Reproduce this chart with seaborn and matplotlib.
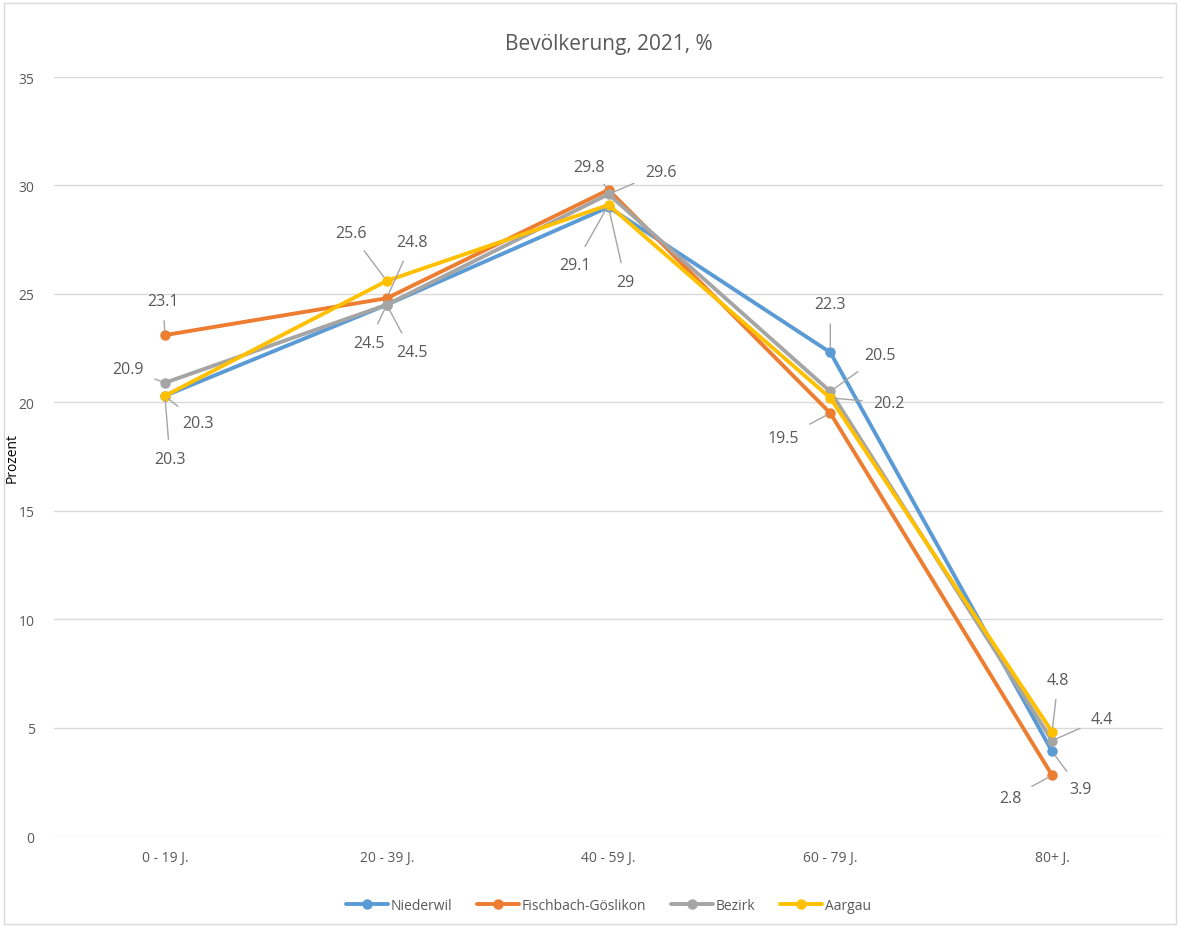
import pandas as pd
import matplotlib.pyplot as plt
import seaborn as sns

# Daten
kategorien = ['0 - 19 J.', '20 - 39 J.', '40 - 59 J.', '60 - 79 J.', '80+ J.']
niederwil = [20.3, 24.5, 29.0, 22.3, 3.9]
fischbach = [23.1, 24.8, 29.8, 19.5, 2.8]
bezirk = [20.9, 24.5, 29.6, 20.5, 4.4]
aargau = [20.3, 25.6, 29.1, 20.2, 4.8]

serien = {'Niederwil': niederwil, 'Fischbach-Göslikon': fischbach,
          'Bezirk': bezirk, 'Aargau': aargau}
farben = ['#5B9BD5', '#ED7D31', '#A5A5A5', '#FFC000']

rows = []
for name, werte in serien.items():
    for i, v in enumerate(werte):
        rows.append({'pos': i, 'wert': v, 'serie': name})
df = pd.DataFrame(rows)

sns.set_style("white")
plt.rcParams['font.family'] = ['Open Sans', 'DejaVu Sans']
textfarbe = '#595959'

fig = plt.figure(figsize=(11.8, 9.29), dpi=100)
ax = fig.add_axes([0.0458, 0.099, 0.9398, 0.817])

sns.lineplot(data=df, x='pos', y='wert', hue='serie', palette=farben,
             marker='o', markersize=7.5, markeredgewidth=0, linewidth=2.8,
             ax=ax, legend=True)

ax.set_xlim(-0.5, 4.5)
ax.set_ylim(0, 35)
ax.set_yticks(range(0, 36, 5))
ax.set_xticks(range(len(kategorien)))
ax.set_xticklabels(kategorien)
ax.grid(axis='y', color='#D9D9D9', linewidth=1)
ax.set_axisbelow(True)
for s in ax.spines.values():
    s.set_visible(False)
ax.tick_params(axis='both', length=0, labelsize=10, colors=textfarbe, pad=14)
ax.tick_params(axis='x', pad=10)
ax.set_xlabel('')
ax.set_ylabel('Prozent', fontsize=10, color='black')
ax.yaxis.set_label_coords(-0.031, 0.5)
ax.set_title('Bevölkerung, 2021, %', fontsize=15, color=textfarbe, pad=20)

# Datenbeschriftungen mit Führungslinien (Versatz in Pixel)
versatz = {
    'Niederwil': [(33, 27), (25, 47), (17, 75), (0, -48), (28, 38)],
    'Fischbach-Göslikon': [(-2, -34), (25, -56), (-20, -23), (-47, 25), (-42, 23)],
    'Bezirk': [(-37, -14), (-18, 38), (52, -22), (50, -36), (50, -22)],
    'Aargau': [(5, 63), (-36, -48), (-34, 60), (59, 5), (6, -52)],
}
for name, werte in serien.items():
    for i, v in enumerate(werte):
        dx, dy = versatz[name][i]
        txt = f'{v:g}'
        ax.annotate(txt, xy=(i, v), xytext=(dx * 0.72, -dy * 0.72),
                    textcoords='offset points', ha='center', va='center',
                    fontsize=11.5, color=textfarbe,
                    arrowprops=dict(arrowstyle='-', color='#A5A5A5', lw=1,
                                    shrinkA=6, shrinkB=3))

handles, labels = ax.get_legend_handles_labels()
ax.legend(handles, labels, loc='upper center', bbox_to_anchor=(0.5, -0.065),
          ncol=4, frameon=False, fontsize=10, handlelength=3,
          columnspacing=1.8, handletextpad=0.2, labelcolor=textfarbe)

# Rahmen um das Diagramm
fig.patches.append(plt.Rectangle((0.003, 0.004), 0.994, 0.992, transform=fig.transFigure,
                                 fill=False, edgecolor='#D9D9D9', linewidth=1))

fig.savefig('out.png', dpi=100)
